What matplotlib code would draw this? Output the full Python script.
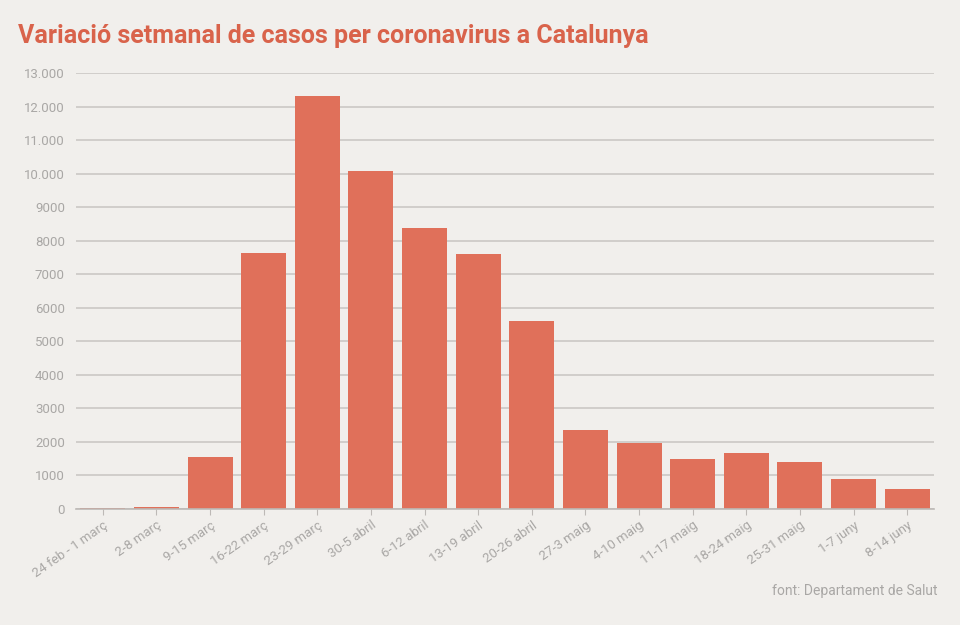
import matplotlib
matplotlib.use("Agg")
import matplotlib.pyplot as plt

weeks = ["24 feb - 1 març", "2-8 març", "9-15 març", "16-22 març", "23-29 març",
         "30-5 abril", "6-12 abril", "13-19 abril", "20-26 abril", "27-3 maig",
         "4-10 maig", "11-17 maig", "18-24 maig", "25-31 maig", "1-7 juny", "8-14 juny"]
cases = [15, 60, 1550, 7630, 12310, 10080, 8380, 7600, 5610, 2360,
         1970, 1490, 1670, 1400, 900, 600]
yticks = list(range(0, 14000, 1000))
ylabels = ["0", "1000", "2000", "3000", "4000", "5000", "6000", "7000", "8000",
           "9000", "10.000", "11.000", "12.000", "13.000"]

bg = "#f1efec"
bar_color = "#e0705a"
grid_color = "#cbc8c5"
label_color = "#a9a7a5"

plt.rcParams['font.family'] = ['Roboto', 'DejaVu Sans']

fig = plt.figure(figsize=(9.6, 6.25), dpi=100, facecolor=bg)
ax = fig.add_axes([76 / 960, 1 - 509 / 625, (934 - 76) / 960, (509 - 73) / 625])
ax.set_facecolor(bg)

x = range(len(weeks))
ax.bar(x, cases, width=0.84, color=bar_color, zorder=3)

ax.set_xlim(-0.5, len(weeks) - 0.5)
ax.set_ylim(0, 13000)
ax.set_yticks(yticks)
ax.set_yticklabels(ylabels)
ax.set_xticks(list(x))
ax.set_xticklabels(weeks, rotation=35, ha="right", rotation_mode="anchor")

ax.grid(axis="y", color=grid_color, linewidth=1.2, zorder=0)
ax.set_axisbelow(True)
for s in ["top", "right", "left"]:
    ax.spines[s].set_visible(False)
ax.spines["bottom"].set_color("#bdb9b6")
ax.spines["bottom"].set_linewidth(1.2)
ax.spines["bottom"].set_zorder(4)

ax.tick_params(axis="y", length=0, pad=8, labelsize=9.5, labelcolor=label_color)
ax.tick_params(axis="x", length=4, color="#bdb9b6", pad=3, labelsize=9.5, labelcolor=label_color)

fig.text(18 / 960, 1 - 36 / 625, "Variació setmanal de casos per coronavirus a Catalunya",
         fontsize=18, fontweight="bold", color="#d9634b", va="center", ha="left")
fig.text(938 / 960, 1 - 591 / 625, "font: Departament de Salut",
         fontsize=10, color=label_color, va="center", ha="right")

fig.savefig("out.png", dpi=100, facecolor=bg)
